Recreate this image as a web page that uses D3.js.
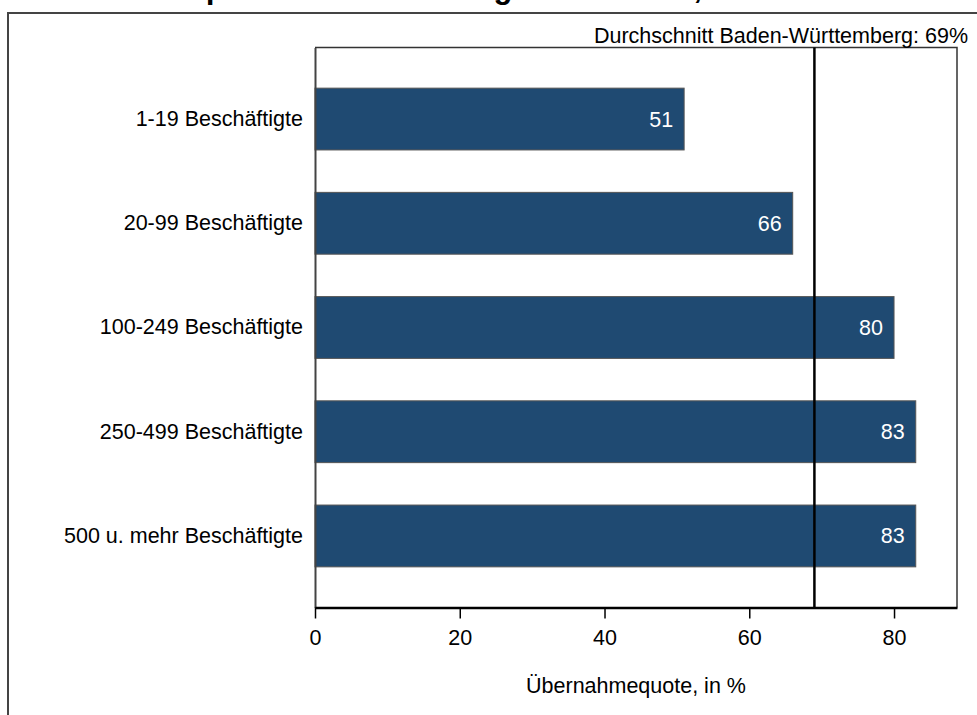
<!DOCTYPE html>
<html>
<head>
<meta charset="utf-8">
<script src="https://cdn.jsdelivr.net/npm/d3@7/dist/d3.min.js"></script>
<style>
  html, body { margin: 0; padding: 0; background: #fff; }
  svg { display: block; font-family: "Liberation Sans", Arial, sans-serif; }
</style>
</head>
<body>
<svg id="chart" width="977" height="715"></svg>
<script>
// Übernahmequote nach Betriebsgröße
const categories = [
  "1-19 Beschäftigte",
  "20-99 Beschäftigte",
  "100-249 Beschäftigte",
  "250-499 Beschäftigte",
  "500 u. mehr Beschäftigte"
];
const values = [51, 66, 80, 83, 83];
const average = 69;
const xTicks = [0, 20, 40, 60, 80];
const titleText = "Übernahmequote nach Betriebsgrößenklasse, 2019";
const averageLabel = "Durchschnitt Baden-Württemberg: 69%";
const xTitle = "Übernahmequote, in %";

const FONT = 21.5;
const svg = d3.select("#chart");
const plot = { left: 315, right: 957, top: 47.5, bottom: 607.5 };

const x = d3.scaleLinear().domain([0, 88.7]).range([plot.left, plot.right]);
const y = d3.scaleBand().domain(categories)
  .range([plot.top, plot.bottom]).paddingInner(0.407).paddingOuter(0.39);

// Title (runs off the top edge of the page)
svg.append("text")
  .attr("x", 25).attr("y", -2)
  .attr("font-size", 31).attr("font-weight", "bold")
  .attr("fill", "#000")
  .text(titleText);

// Outer frame
svg.append("path")
  .attr("d", "M8,715 L8,13 L977,13")
  .attr("fill", "none").attr("stroke", "#444").attr("stroke-width", 2);

// Plot frame: top and right edges
svg.append("path")
  .attr("d", `M${plot.left},${plot.top} L${plot.right},${plot.top} L${plot.right},${plot.bottom}`)
  .attr("fill", "none").attr("stroke", "#333").attr("stroke-width", 1.5);

// Average label
svg.append("text")
  .attr("x", 968).attr("y", 43)
  .attr("text-anchor", "end").attr("font-size", FONT).attr("fill", "#000")
  .text(averageLabel);

// Bars
svg.append("g").selectAll("rect")
  .data(values)
  .join("rect")
  .attr("x", x(0))
  .attr("y", (d, i) => y(categories[i]))
  .attr("width", d => x(d) - x(0))
  .attr("height", y.bandwidth())
  .attr("fill", "#1f4a72")
  .attr("stroke", "#555").attr("stroke-width", 1);

// Value labels
svg.append("g").selectAll("text")
  .data(values)
  .join("text")
  .attr("x", d => x(d) - 11)
  .attr("y", (d, i) => y(categories[i]) + y.bandwidth() / 2)
  .attr("dy", "0.35em")
  .attr("text-anchor", "end")
  .attr("font-size", FONT).attr("fill", "#fff")
  .text(d => d);

// Average line
svg.append("line")
  .attr("x1", x(average)).attr("x2", x(average))
  .attr("y1", plot.top).attr("y2", plot.bottom)
  .attr("stroke", "#000").attr("stroke-width", 2.5);

// Y axis
const yAxis = svg.append("g")
  .attr("transform", `translate(${plot.left},0)`)
  .call(d3.axisLeft(y).tickSize(0).tickPadding(12));
yAxis.select(".domain").attr("stroke", "#444").attr("stroke-width", 2);
yAxis.selectAll("text").attr("font-size", FONT).attr("fill", "#000")
  .attr("font-family", "Liberation Sans, Arial, sans-serif");

// X axis
const xAxis = svg.append("g")
  .attr("transform", `translate(0,${plot.bottom})`)
  .call(d3.axisBottom(x).tickValues(xTicks).tickSize(11).tickSizeOuter(0).tickPadding(11));
xAxis.select(".domain").attr("stroke", "#000").attr("stroke-width", 2.5);
xAxis.selectAll(".tick line").attr("stroke", "#000").attr("stroke-width", 1.5);
xAxis.selectAll("text").attr("font-size", FONT).attr("fill", "#000")
  .attr("font-family", "Liberation Sans, Arial, sans-serif");

// X axis title
svg.append("text")
  .attr("x", (plot.left + plot.right) / 2).attr("y", 693)
  .attr("text-anchor", "middle").attr("font-size", FONT).attr("fill", "#000")
  .text(xTitle);
</script>
</body>
</html>
